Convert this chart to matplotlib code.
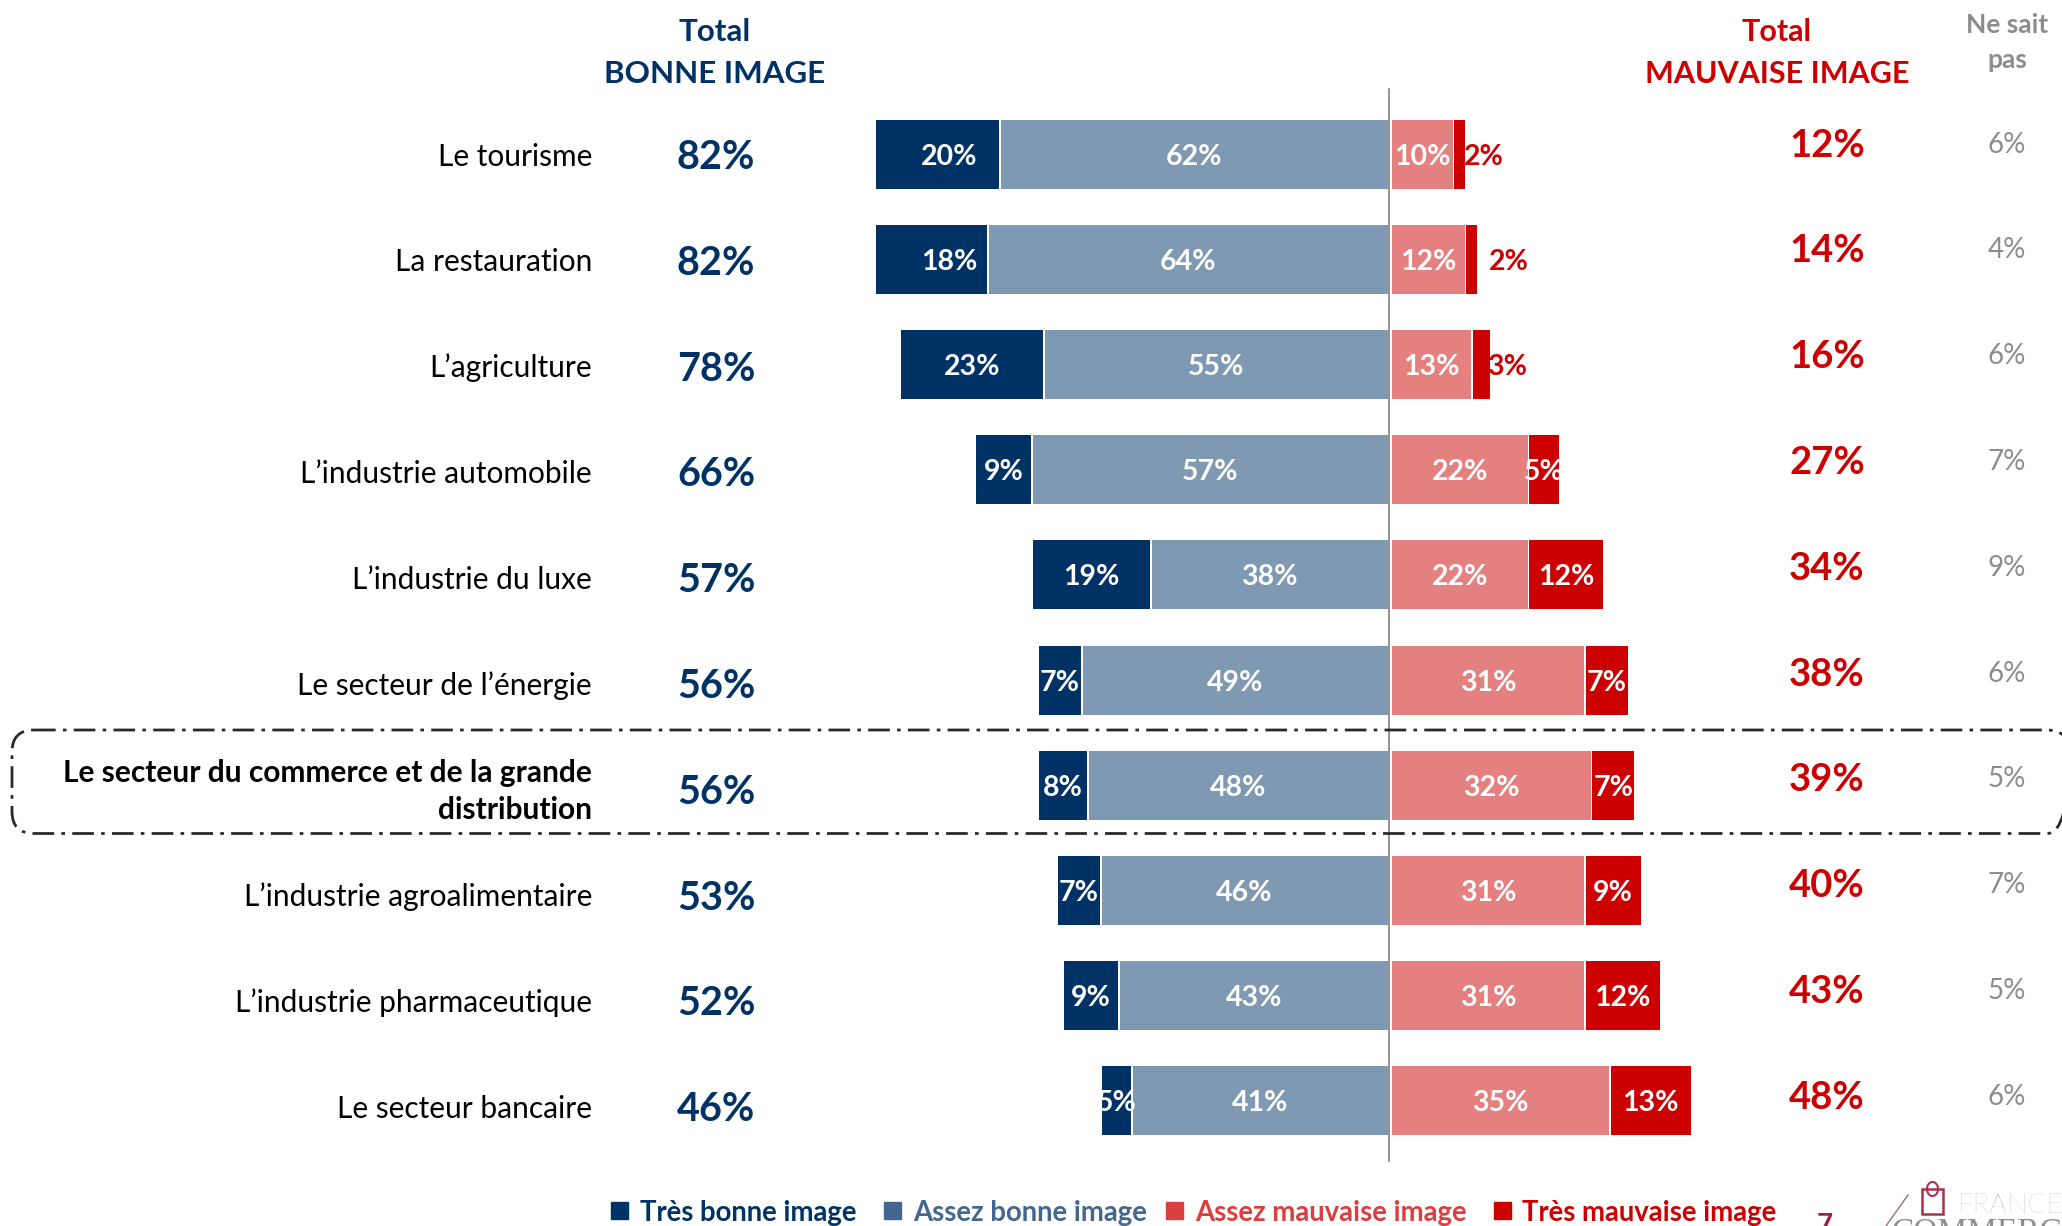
import matplotlib
matplotlib.use("Agg")
import matplotlib.pyplot as plt
from matplotlib.patches import FancyBboxPatch, Rectangle, Arc
from matplotlib.lines import Line2D

categories = ["Le tourisme", "La restauration", "L’agriculture", "L’industrie automobile",
              "L’industrie du luxe", "Le secteur de l’énergie",
              "Le secteur du commerce et de la grande\ndistribution",
              "L’industrie agroalimentaire", "L’industrie pharmaceutique", "Le secteur bancaire"]
tres_bonne = [20, 18, 23, 9, 19, 7, 8, 7, 9, 5]
assez_bonne = [62, 64, 55, 57, 38, 49, 48, 46, 43, 41]
assez_mauvaise = [10, 12, 13, 22, 22, 31, 32, 31, 31, 35]
tres_mauvaise = [2, 2, 3, 5, 12, 7, 7, 9, 12, 13]
total_bonne = [82, 82, 78, 66, 57, 56, 56, 53, 52, 46]
total_mauvaise = [12, 14, 16, 27, 34, 38, 39, 40, 43, 48]
ne_sait_pas = [6, 4, 6, 7, 9, 6, 5, 7, 5, 6]
legend_labels = ["Très bonne image", "Assez bonne image", "Assez mauvaise image", "Très mauvaise image"]

W, H = 2062, 1226
NAVY, BLUE, PINK, RED = "#003265", "#7F99B2", "#E58080", "#CC0000"
LEG_BLUE, LEG_PINK = "#44678F", "#D93F3F"
GREY = "#8C8C8C"
FONT = "Lato"
plt.rcParams["font.family"] = [FONT, "DejaVu Sans"]

fig = plt.figure(figsize=(W / 100, H / 100), dpi=100)
ax = fig.add_axes([0, 0, 1, 1])
X0, SX = 1389.0, 6.27
Y0, SY = 154.0, 105.2
ax.set_xlim(-X0 / SX, (W - X0) / SX)
ax.set_ylim((H - Y0) / SY, -Y0 / SY)
ax.axis("off")


def fx(px):
    return (px - X0) / SX


def fy(py):
    return (py - Y0) / SY


rows = list(range(len(categories)))
BAR_H = 69 / SY
GAP = 0.45
LEFT_SHIFT = 0.2
LABEL_DY = 2.6 / SY


def seg(left, width, row, color, label, text_x=None, text_color="white", clip=True):
    bar = ax.barh(row, width, left=left, height=BAR_H, color=color, edgecolor="none", zorder=2)[0]
    x = left + width / 2 if text_x is None else text_x
    t = ax.text(x, row + LABEL_DY, f"{label}%", ha="center", va="center", color=text_color,
                fontsize=20.5, fontweight="bold", zorder=3)
    if clip:
        t.set_clip_path(bar)
    return bar


outside = {0: 1128, 1: 1147, 2: 1146}
navy_label_x = {0: 722, 1: 722}
K = W / 1568
for i in rows:
    g1, g2, r1, r2 = tres_bonne[i], assez_bonne[i], assez_mauvaise[i], tres_mauvaise[i]
    seg(-g2 - 0.05 + LEFT_SHIFT, g2 - 0.15 - LEFT_SHIFT, i, BLUE, g2)
    tx = fx(navy_label_x[i] * K) if i in navy_label_x else None
    seg(-g2 - g1 - 0.05 + LEFT_SHIFT, g1 - 0.3, i, NAVY, g1, tx)
    seg(GAP, r1 - 0.3, i, PINK, r1)
    if i in outside:
        seg(GAP + r1 - 0.1, r2 - 0.3, i, RED, r2, fx(outside[i] * K), RED, clip=False)
    else:
        seg(GAP + r1 - 0.1, r2 - 0.2, i, RED, r2)

ax.plot([0, 0], [fy(89), fy(1161)], color="#808080", lw=1.2, zorder=4)

# row texts
for i in rows:
    yc = 156.5 + i * 105.8
    highlight = i == 6
    ax.text(fx(592), fy(yc), categories[i], ha="right", va="center",
            fontsize=21.5, fontweight="bold" if highlight else "normal",
            color="black", linespacing=1.38)
    ax.text(fx(716), fy(yc + 1), f"{total_bonne[i]}%", ha="center", va="center",
            fontsize=28.5, fontweight="bold", color=NAVY)
    ax.text(fx(1827), fy(yc - 11), f"{total_mauvaise[i]}%", ha="center", va="center",
            fontsize=27.5, fontweight="bold", color=RED)
    ax.text(fx(2007), fy(yc - 12), f"{ne_sait_pas[i]}%", ha="center", va="center",
            fontsize=20, color=GREY)

# headers
ax.text(fx(715), fy(31.5), "Total", ha="center", va="center", fontsize=22.6, fontweight="bold", color=NAVY)
ax.text(fx(715), fy(73.5), "BONNE IMAGE", ha="center", va="center", fontsize=22.6, fontweight="bold", color=NAVY)
ax.text(fx(1777), fy(31.5), "Total", ha="center", va="center", fontsize=22, fontweight="bold", color=RED)
ax.text(fx(1777), fy(73.5), "MAUVAISE IMAGE", ha="center", va="center", fontsize=22, fontweight="bold", color=RED)
ax.text(fx(2007), fy(25), "Ne sait", ha="center", va="center", fontsize=19, fontweight="bold", color=GREY)
ax.text(fx(2007), fy(60), "pas", ha="center", va="center", fontsize=19, fontweight="bold", color=GREY)

to_px = matplotlib.transforms.Affine2D().scale(1, -1).translate(0, H)

# highlight box
box = FancyBboxPatch((12, 730), 2057, 103.5, boxstyle="round,pad=0,rounding_size=22",
                     fill=False, edgecolor="#2A2A2A", lw=2.0,
                     linestyle=(0, (7.8, 2.6, 1.3, 2.6)), zorder=5)
box.set_transform(to_px)
ax.add_artist(box)

# legend
leg_colors = [NAVY, LEG_BLUE, LEG_PINK, RED]
leg_sq = [611, 884, 1166, 1494]
leg_tx = [640, 913, 1195, 1522]
for lab, c, sq, tx in zip(legend_labels, leg_colors, leg_sq, leg_tx):
    fig.add_artist(Rectangle((sq, 1202), 17, 17, color=c, transform=to_px))
    ax.text(fx(tx), fy(1212.5), lab, ha="left", va="center", fontsize=19.8, fontweight="bold", color=c)

# page number and logo
ax.text(fx(1825), fy(1226), "7", ha="center", va="center", fontsize=20, fontweight="bold", color="#A02040")
ax.text(fx(1958), fy(1205), "FRANCE", ha="left", va="center", fontsize=20, color="#B5B5B5", fontweight="light")
ax.text(fx(1892), fy(1233), "COMMERCE", ha="left", va="center", fontsize=24, color="#8F8F8F",
        family="Liberation Serif", clip_on=True)
fig.add_artist(Line2D([1886, 1908], [1226, 1195], color="#9C6C78", lw=1, transform=to_px))
fig.add_artist(Rectangle((1922, 1189), 21, 25, fill=False, edgecolor="#A8324A", lw=1.8, transform=to_px))
fig.add_artist(Arc((1932.5, 1189), 11, 14, theta1=0, theta2=360, color="#A8324A", lw=1.5, transform=to_px))

fig.savefig("out.png", dpi=100, facecolor="white")
